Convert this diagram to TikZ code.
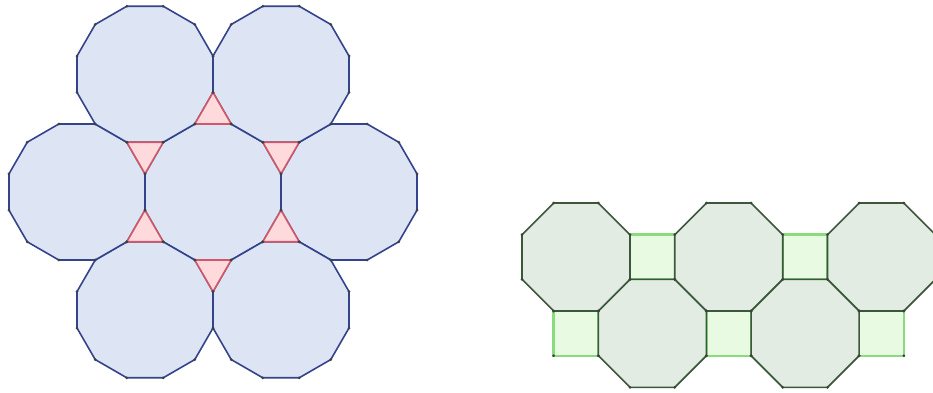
\documentclass[tikz,border=0pt]{standalone}
\usetikzlibrary{calc}
\definecolor{dodecafill}{HTML}{DDE5F5}
\definecolor{dodecaline}{HTML}{34448C}
\definecolor{trifill}{HTML}{FFDADC}
\definecolor{triline}{HTML}{D05868}
\definecolor{octafill}{HTML}{E2ECE2}
\definecolor{octaline}{HTML}{3C583C}
\definecolor{sqfill}{HTML}{E8FBE2}
\definecolor{sqline}{HTML}{88DC7C}

\begin{document}
\begin{tikzpicture}[x=1pt, y=-1pt,
  dodeca/.style={draw=dodecaline, fill=dodecafill, line width=1.6pt, line join=round},
  tri/.style={draw=triline, fill=trifill, line width=1.6pt, line join=round},
  octa/.style={draw=octaline, fill=octafill, line width=1.6pt, line join=round},
  sq/.style={draw=sqline, fill=sqfill, line width=2.4pt},
  vdot/.style={fill=black!75}
]
  \useasboundingbox (0,0) rectangle (933,392);

  % dodecagons and triangles
  \coordinate (d0) at (213,192);
  \foreach \ang [count=\i] in {0,60,...,300}
    \coordinate (d\i) at ($(d0)+(\ang:136)$);
  \foreach \ang [count=\i] in {30,90,...,330}
    \coordinate (t\i) at ($(d0)+(\ang:78.52)$);

  \foreach \i in {0,...,6}
    \draw[dodeca, shift={(d\i)}] (15:70.4) \foreach \t in {45,75,...,345} { -- (\t:70.4) } -- cycle;
  \foreach \ang [count=\i] in {30,90,...,330}
    \draw[tri, shift={(t\i)}] (\ang:21.04) -- ({\ang+120}:21.04) -- ({\ang+240}:21.04) -- cycle;
  \foreach \i in {0,...,6}
    \foreach \t in {15,45,...,345}
      \fill[vdot] ($(d\i)+(\t:70.4)$) circle (1.5);

  % octagons and squares
  \foreach \i in {0,1,2} {
    \coordinate (o\i) at ({576+152.74*\i},257);
    \coordinate (sb\i) at ({576+152.74*\i},333.37);
  }
  \foreach \i in {0,1} {
    \coordinate (ob\i) at ({652.37+152.74*\i},333.37);
    \coordinate (st\i) at ({652.37+152.74*\i},257);
  }

  \foreach \c in {st0,st1,sb0,sb1,sb2}
    \draw[sq, shift={(\c)}] (-22.37,-22.37) rectangle (22.37,22.37);
  \foreach \c in {o0,o1,o2,ob0,ob1}
    \draw[octa, shift={(\c)}] (22.5:58.45) \foreach \t in {67.5,112.5,...,337.5} { -- (\t:58.45) } -- cycle;

  \foreach \c in {o0,o1,o2,ob0,ob1}
    \foreach \t in {22.5,67.5,...,337.5}
      \fill[vdot] ($(\c)+(\t:58.45)$) circle (1.5);
  \foreach \c in {sb0,sb1,sb2}
    \foreach \t in {45,135,...,315}
      \fill[vdot] ($(\c)+(\t:31.63)$) circle (1.5);
\end{tikzpicture}
\end{document}
